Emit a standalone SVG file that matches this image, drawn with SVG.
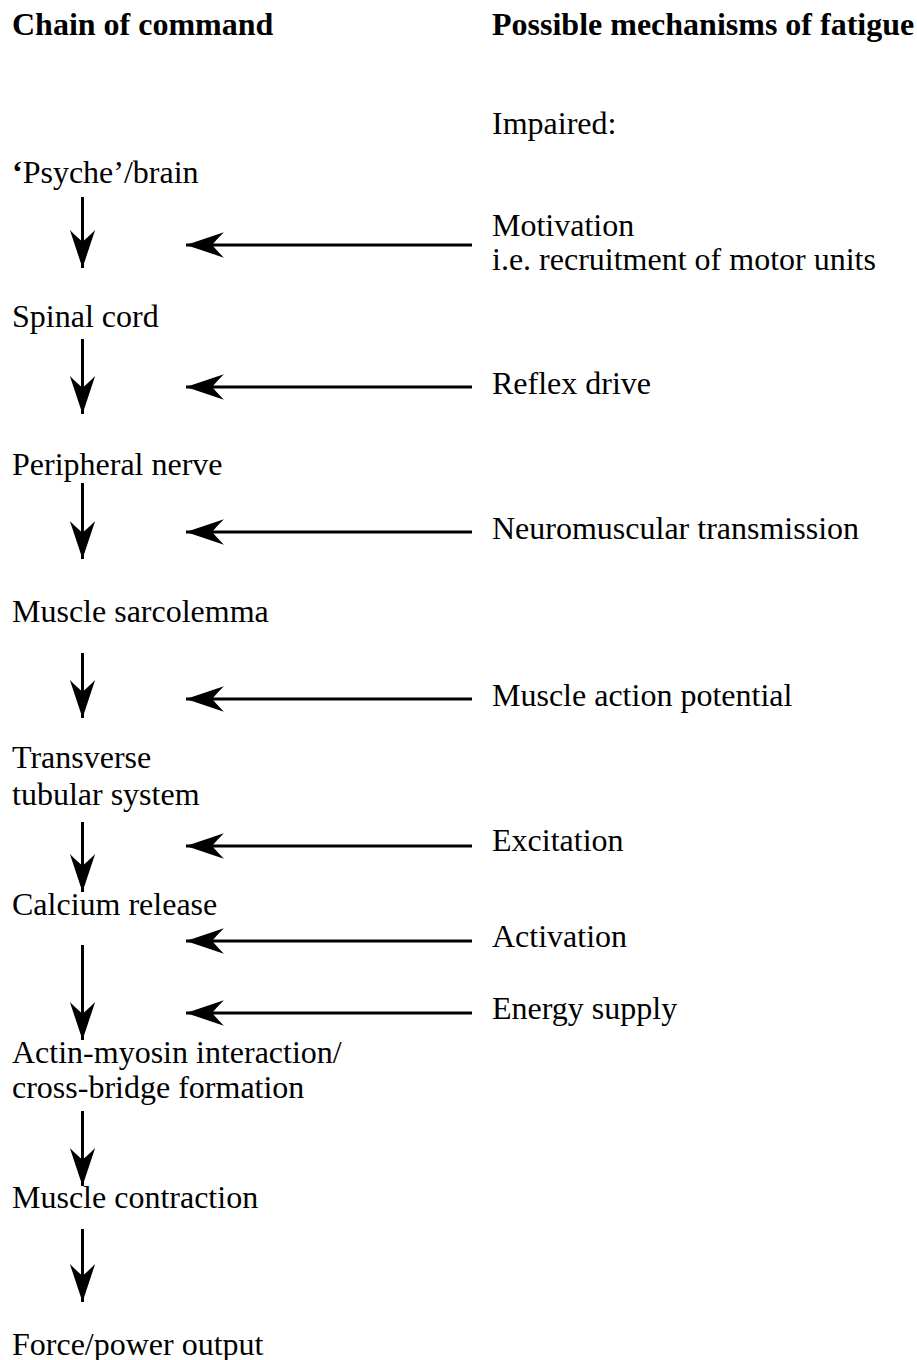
<svg xmlns="http://www.w3.org/2000/svg" width="917" height="1360" viewBox="0 0 917 1360">
  <style>
    text { font-family: "Liberation Serif", "Times New Roman", serif; font-size: 32px; fill: #000; }
    .head { font-weight: bold; }
    .conn line { stroke: #000; stroke-width: 3; marker-end: url(#barb); }
  </style>
  <defs>
    <!-- barbed arrowhead, tip at the line end -->
    <marker id="barb" markerUnits="userSpaceOnUse" orient="auto" refX="0" refY="0"
            markerWidth="40" markerHeight="30" viewBox="-37 -13 38 26" overflow="visible">
      <path d="M0,0 L-36,-12 Q-28,-4 -25,0 Q-28,4 -36,12 Z" fill="#000"/>
    </marker>
  </defs>

  <rect width="917" height="1360" fill="#fff"/>

  <!-- column headings -->
  <g id="heading-chain"><text class="head" x="12" y="35">Chain of command</text></g>
  <g id="heading-mechanisms"><text class="head" x="492" y="35">Possible mechanisms of fatigue</text></g>

  <!-- chain of command -->
  <g id="psyche"><text x="12" y="183"><tspan font-weight="bold">‘</tspan>Psyche’/brain</text></g>
  <g id="spinal-cord"><text x="12" y="327">Spinal cord</text></g>
  <g id="peripheral-nerve"><text x="12" y="475">Peripheral nerve</text></g>
  <g id="sarcolemma"><text x="12" y="622">Muscle sarcolemma</text></g>
  <g id="t-tubules"><text x="12" y="768">Transverse</text><text x="12" y="805">tubular system</text></g>
  <g id="calcium"><text x="12" y="915">Calcium release</text></g>
  <g id="cross-bridge"><text x="12" y="1063">Actin-myosin interaction/</text><text x="12" y="1098">cross-bridge formation</text></g>
  <g id="contraction"><text x="12" y="1208">Muscle contraction</text></g>
  <g id="output"><text x="12" y="1355">Force/power output</text></g>

  <!-- mechanisms -->
  <g id="impaired"><text x="492" y="134">Impaired:</text></g>
  <g id="motivation"><text x="492" y="236">Motivation</text><text x="492" y="270">i.e. recruitment of motor units</text></g>
  <g id="reflex"><text x="492" y="394">Reflex drive</text></g>
  <g id="nmj"><text x="492" y="539">Neuromuscular transmission</text></g>
  <g id="action-potential"><text x="492" y="706">Muscle action potential</text></g>
  <g id="excitation"><text x="492" y="851">Excitation</text></g>
  <g id="activation"><text x="492" y="947">Activation</text></g>
  <g id="energy"><text x="492" y="1019">Energy supply</text></g>

  <!-- connectors -->
  <g class="conn" id="connectors">
    <line x1="82.5" y1="197" x2="82.5" y2="268"/>
    <line x1="82.5" y1="339" x2="82.5" y2="414"/>
    <line x1="82.5" y1="483" x2="82.5" y2="559"/>
    <line x1="82.5" y1="653" x2="82.5" y2="718"/>
    <line x1="82.5" y1="822" x2="82.5" y2="892"/>
    <line x1="82.5" y1="945" x2="82.5" y2="1040"/>
    <line x1="82.5" y1="1111" x2="82.5" y2="1186"/>
    <line x1="82.5" y1="1229" x2="82.5" y2="1302"/>

    <line x1="472" y1="245" x2="186" y2="245"/>
    <line x1="472" y1="387" x2="186" y2="387"/>
    <line x1="472" y1="532" x2="186" y2="532"/>
    <line x1="472" y1="699" x2="186" y2="699"/>
    <line x1="472" y1="846" x2="186" y2="846"/>
    <line x1="472" y1="941" x2="186" y2="941"/>
    <line x1="472" y1="1013" x2="186" y2="1013"/>
  </g>
</svg>
